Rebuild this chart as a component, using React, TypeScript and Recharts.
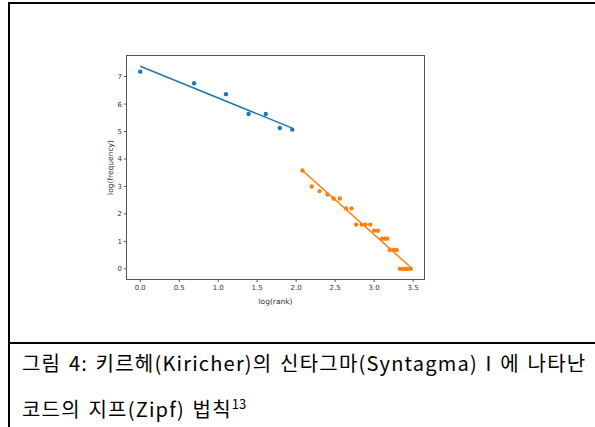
import { ComposedChart, Scatter, Line, XAxis, YAxis } from 'recharts';

// log(rank), log(frequency)
const blueX = [0, 0.69, 1.1, 1.39, 1.61, 1.79, 1.95];
const blueY = [7.18, 6.76, 6.36, 5.64, 5.64, 5.13, 5.07];

const orangeX = [2.08, 2.2, 2.3, 2.4, 2.48, 2.56, 2.64, 2.71, 2.77, 2.84, 2.89, 2.95, 3.0, 3.05, 3.1, 3.14, 3.17, 3.2, 3.25, 3.29, 3.33, 3.37, 3.4, 3.43, 3.47];
const orangeY = [3.58, 3.0, 2.83, 2.71, 2.56, 2.56, 2.2, 2.2, 1.61, 1.61, 1.61, 1.61, 1.39, 1.39, 1.1, 1.1, 1.1, 0.69, 0.69, 0.69, 0, 0, 0, 0, 0];

const xTicks = [0, 0.5, 1, 1.5, 2, 2.5, 3, 3.5];
const yTicks = [0, 1, 2, 3, 4, 5, 6, 7];

const X_DOMAIN = [-0.17, 3.64];
const Y_DOMAIN = [-0.37, 7.75];

const BLUE = '#1f77b4';
const ORANGE = '#ff7f0e';

const toPoints = (xs: number[], ys: number[]) => xs.map((x, i) => ({ x, y: ys[i] }));

// least squares line through the points, drawn over the points' x range
function fitLine(xs: number[], ys: number[]) {
    const n = xs.length;
    const mx = xs.reduce((a, b) => a + b, 0) / n;
    const my = ys.reduce((a, b) => a + b, 0) / n;
    let sxy = 0;
    let sxx = 0;
    xs.forEach((x, i) => {
        sxy += (x - mx) * (ys[i] - my);
        sxx += (x - mx) * (x - mx);
    });
    const slope = sxy / sxx;
    const icpt = my - slope * mx;
    const x0 = Math.min(...xs);
    const x1 = Math.max(...xs);
    return [
        { x: x0, y: icpt + slope * x0 },
        { x: x1, y: icpt + slope * x1 },
    ];
}

const bluePts = toPoints(blueX, blueY);
const orangePts = toPoints(orangeX, orangeY);
const blueFit = fitLine(blueX, blueY);
const orangeFit = fitLine(orangeX, orangeY);

// chart box and plot area
const W = 595;
const H = 340;
const MARGIN = { top: 56, right: 171, bottom: 31, left: 97 };
const Y_AXIS_W = 30;
const X_AXIS_H = 30;
const plotLeft = MARGIN.left + Y_AXIS_W;
const plotW = W - MARGIN.right - plotLeft;
const plotH = H - MARGIN.top - MARGIN.bottom - X_AXIS_H;

const SPINE = '#555';
const tickStyle = { fontSize: 7, fill: '#333', fontFamily: 'DejaVu Sans' };

const dot = (color: string) => (props: any) => <circle cx={props.cx} cy={props.cy} r={2.2} fill={color} />;

export default function App() {
    return (
        <div style={{ position: 'absolute', left: 0, top: 0, width: 595, height: 427, background: '#fff', overflow: 'hidden' }}>
            <div
                style={{
                    position: 'absolute',
                    left: 8,
                    top: 2,
                    width: 600,
                    height: 423,
                    borderTop: '2px solid #000',
                    borderLeft: '2px solid #000',
                    borderBottom: '2px solid #000',
                }}
            />
            <div style={{ position: 'absolute', left: 8, top: 342, width: 600, height: 2, background: '#000' }} />

            {/* axes frame (matplotlib spines) */}
            <div
                style={{
                    position: 'absolute',
                    left: plotLeft - 1,
                    top: MARGIN.top - 1,
                    width: plotW + 2,
                    height: plotH + 2,
                    boxSizing: 'border-box',
                    border: `1px solid ${SPINE}`,
                }}
            />

            <div style={{ position: 'absolute', left: 0, top: 0 }}>
                <ComposedChart width={W} height={H} margin={MARGIN}>
                    <XAxis
                        type="number"
                        dataKey="x"
                        domain={X_DOMAIN}
                        ticks={xTicks}
                        tickFormatter={(v: number) => v.toFixed(1)}
                        allowDataOverflow
                        height={X_AXIS_H}
                        tickSize={3}
                        tickMargin={3}
                        axisLine={false}
                        stroke={SPINE}
                        tick={tickStyle}
                        label={{ value: 'log(rank)', position: 'insideBottom', offset: 5, style: { fontSize: 7.5, fill: '#333', fontFamily: 'DejaVu Sans' } }}
                    />
                    <YAxis
                        type="number"
                        dataKey="y"
                        domain={Y_DOMAIN}
                        ticks={yTicks}
                        allowDataOverflow
                        width={Y_AXIS_W}
                        tickSize={3}
                        tickMargin={2}
                        axisLine={false}
                        stroke={SPINE}
                        tick={tickStyle}
                        label={{ value: 'log(frequency)', angle: -90, position: 'insideLeft', offset: 13, style: { textAnchor: 'middle', fontSize: 7.5, fill: '#333', fontFamily: 'DejaVu Sans' } }}
                    />
                    <Scatter data={bluePts} dataKey="y" fill={BLUE} shape={dot(BLUE)} isAnimationActive={false} />
                    <Scatter data={orangePts} dataKey="y" fill={ORANGE} shape={dot(ORANGE)} isAnimationActive={false} />
                    <Line data={blueFit} dataKey="y" type="linear" stroke={BLUE} strokeWidth={1.5} dot={false} activeDot={false} isAnimationActive={false} />
                    <Line data={orangeFit} dataKey="y" type="linear" stroke={ORANGE} strokeWidth={1.5} dot={false} activeDot={false} isAnimationActive={false} />
                </ComposedChart>
            </div>

            <div
                style={{
                    position: 'absolute',
                    left: 22,
                    top: 348,
                    fontFamily: '"Noto Sans CJK KR", "Noto Sans", sans-serif',
                    fontSize: 20,
                    letterSpacing: 1.2,
                    wordSpacing: 2,
                    color: '#000',
                    whiteSpace: 'nowrap',
                }}
            >
                <div style={{ lineHeight: '30px' }}>그림 4: 키르헤(Kiricher)의 신타그마(Syntagma) I 에 나타난</div>
                <div style={{ lineHeight: '30px', marginTop: 11 }}>
                    코드의 지프(Zipf) 법칙<sup style={{ fontSize: 13, letterSpacing: 0 }}>13</sup>
                </div>
            </div>
        </div>
    );
}
